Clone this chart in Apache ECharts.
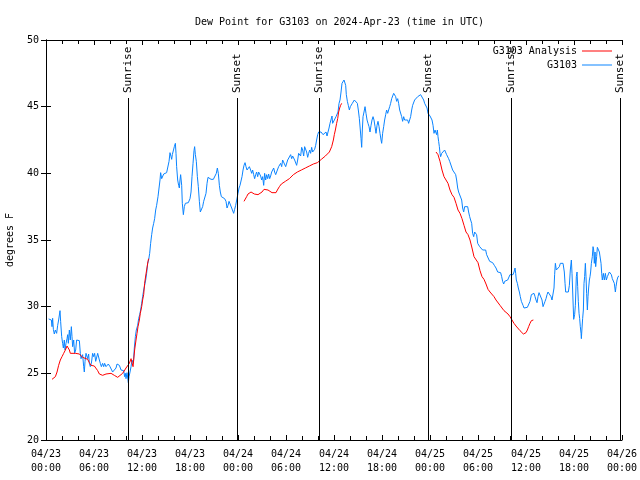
<!DOCTYPE html>
<html><head><meta charset="utf-8">
<script src="https://cdn.jsdelivr.net/npm/echarts@6/dist/echarts.min.js"></script>
<style>html,body{margin:0;padding:0;background:#fff}#c{width:640px;height:480px}</style>
</head><body><div id="c"></div>
<script>
// hours since 2024-04-23 00:00 UTC
var obsT = [0.33,0.5,0.67,0.75,0.83,0.92,1.04,1.17,1.33,1.46,1.58,1.75,1.83,1.96,2.08,2.17,2.29,2.38,2.5,2.63,2.71,2.79,2.92,3.04,3.17,3.25,3.33,3.46,3.58,3.71,3.83,3.96,4.17,4.29,4.38,4.5,4.58,4.71,4.79,4.88,5.0,5.13,5.21,5.33,5.42,5.54,5.67,5.83,5.96,6.08,6.21,6.33,6.46,6.58,6.67,6.79,6.92,7.08,7.21,7.33,7.5,7.63,7.79,8.0,8.21,8.33,8.54,8.75,8.88,9.04,9.17,9.38,9.58,9.71,9.83,9.92,10.0,10.13,10.29,10.38,10.5,10.63,10.75,10.92,11.04,11.17,11.29,11.46,11.58,11.71,
11.83,11.96,12.08,12.21,12.33,12.46,12.58,12.71,12.83,12.96,13.08,13.21,13.33,13.46,13.58,13.71,13.83,14.0,14.13,14.25,14.33,14.46,14.58,14.71,14.88,15.08,15.25,15.38,15.5,15.63,15.71,15.79,15.92,16.04,16.17,16.25,16.33,16.46,16.58,16.67,16.75,16.83,16.96,17.04,17.17,17.29,17.42,17.58,17.79,18.0,18.13,18.25,18.38,18.5,18.58,18.67,18.79,18.92,19.04,19.17,19.29,19.46,19.58,19.71,19.88,20.0,20.13,20.25,20.42,20.63,20.92,21.17,21.29,21.42,21.54,21.67,21.79,21.92,22.04,22.17,22.33,22.5,22.63,22.75,22.88,23.08,23.21,23.33,23.46,23.58,23.71,
24.0,24.13,24.25,24.38,24.5,24.63,24.75,24.88,25.0,25.13,25.25,25.42,25.58,25.71,25.83,25.96,26.08,26.21,26.33,26.46,26.58,26.71,26.83,26.96,27.08,27.21,27.33,27.46,27.58,27.71,27.83,27.96,28.08,28.21,28.33,28.46,28.58,28.71,28.83,28.96,29.08,29.21,29.33,29.46,29.58,29.71,29.83,29.96,30.08,30.21,30.33,30.46,30.58,30.71,30.83,30.96,31.08,31.21,31.33,31.46,31.58,31.71,31.83,31.96,32.08,32.21,32.33,32.46,32.58,32.71,32.83,32.96,33.08,33.21,33.33,33.46,33.58,33.71,33.83,33.96,34.08,34.25,34.38,34.5,34.63,34.75,34.88,35.0,35.13,35.25,35.38,35.5,35.63,35.75,35.83,35.96,36.08,
36.25,36.33,36.5,36.63,36.75,36.88,37.0,37.13,37.25,37.38,37.46,37.54,37.67,37.79,37.92,38.04,38.17,38.29,38.42,38.54,38.67,38.79,38.92,39.04,39.17,39.29,39.38,39.46,39.54,39.63,39.75,39.88,40.0,40.13,40.25,40.38,40.5,40.63,40.75,40.88,41.0,41.13,41.25,41.38,41.5,41.63,41.75,41.88,41.96,42.08,42.21,42.33,42.46,42.58,42.71,42.83,42.96,43.08,43.21,43.33,43.46,43.58,43.71,43.83,43.96,44.08,44.21,44.33,44.46,44.58,44.71,44.83,44.96,45.08,45.21,45.33,45.46,45.58,45.71,45.83,45.96,46.08,46.21,46.33,46.46,46.58,46.71,46.83,46.96,47.08,47.21,47.33,47.46,
47.63,47.75,47.88,48.0,48.13,48.25,48.38,48.5,48.63,48.75,48.83,48.92,49.0,49.08,49.17,49.25,49.33,49.46,49.58,49.71,49.83,49.96,50.08,50.21,50.33,50.46,50.58,50.71,50.83,50.96,51.08,51.21,51.33,51.46,51.58,51.71,51.83,51.96,52.08,52.21,52.33,52.46,52.58,52.71,52.83,52.96,53.08,53.21,53.33,53.46,53.58,53.71,53.83,53.96,54.08,54.21,54.33,54.46,54.58,54.71,54.83,54.96,55.08,55.21,55.33,55.46,55.63,55.83,56.04,56.25,56.46,56.67,56.83,56.96,57.08,57.21,57.33,57.5,57.71,57.88,58.0,58.13,58.25,58.38,58.5,58.63,58.71,58.79,58.92,59.04,59.17,59.29,59.42,
59.63,59.75,59.88,60.0,60.17,60.33,60.5,60.67,60.83,61.0,61.13,61.25,61.38,61.5,61.63,61.75,61.88,62.0,62.13,62.25,62.38,62.5,62.63,62.75,62.88,63.0,63.13,63.25,63.38,63.5,63.58,63.67,63.79,63.92,64.04,64.17,64.29,64.42,64.54,64.63,64.79,64.88,64.96,65.13,65.29,65.42,65.54,65.67,65.75,65.83,65.96,66.08,66.17,66.29,66.38,66.46,66.54,66.63,66.71,66.79,66.88,66.92,67.0,67.08,67.17,67.25,67.33,67.42,67.5,67.58,67.67,67.75,67.83,67.92,68.0,68.08,68.17,68.29,68.38,68.46,68.54,68.63,68.71,68.83,68.92,69.04,69.17,69.29,69.38,69.46,69.54,69.67,69.79,69.92,70.04,70.17,70.29,70.42,70.54,70.67,70.79,70.92,71.04,71.17,71.25,71.38,71.5,71.63];
var obsV = [29.08,29.13,29.0,28.5,29.13,28.3,27.95,28.25,28.0,28.6,29.0,29.7,28.9,27.75,27.25,26.9,27.5,26.75,27.25,27.6,27.9,27.25,28.25,27.5,28.5,27.75,27.0,27.5,26.5,26.75,27.5,27.55,27.45,26.5,26.1,26.0,26.4,25.5,25.1,25.9,26.5,26.4,26.1,26.45,25.75,25.5,25.75,26.5,26.25,26.5,25.9,26.0,26.5,26.5,26.0,25.75,25.5,25.75,25.5,25.75,25.5,25.4,25.7,25.5,25.4,25.1,25.1,25.4,25.7,25.75,25.6,25.25,25.1,25.2,24.75,25.0,24.6,25.05,24.3,24.75,25.1,25.5,26.0,25.75,26.9,27.75,28.25,28.6,29.1,29.4,
29.75,30.25,30.75,31.25,31.6,32.0,32.5,33.25,33.5,34.0,34.75,35.4,35.9,36.25,36.6,37.25,37.6,38.25,38.9,39.5,40.05,39.6,39.75,39.95,40.05,40.05,40.1,40.9,41.55,41.25,41.05,41.4,41.5,42.0,42.25,41.5,40.5,39.5,39.1,38.9,39.5,39.9,39.1,37.75,36.9,37.5,37.75,37.75,37.8,38.1,38.6,39.75,40.75,41.7,42.0,41.4,40.9,39.75,39.0,37.9,37.1,37.1,37.5,37.9,37.9,38.5,39.25,39.7,39.6,39.55,39.55,39.55,40.0,40.4,40.0,39.1,38.6,38.25,38.4,38.25,38.1,37.9,37.4,37.6,37.9,37.9,37.4,37.5,37.0,37.3,37.6,
38.5,38.9,39.1,39.0,39.75,40.25,40.6,40.8,40.5,40.25,40.4,40.5,40.25,40.0,40.25,39.9,39.6,39.9,40.1,39.75,40.1,40.25,39.8,39.5,39.75,39.1,40.0,39.5,39.9,39.6,39.95,39.6,39.8,40.1,40.25,40.4,40.1,39.9,40.1,40.25,40.5,40.4,40.75,40.5,41.0,41.1,40.9,40.5,40.6,41.0,40.9,41.0,41.4,41.1,41.3,41.2,41.0,40.9,40.6,41.0,41.5,41.6,41.3,41.95,41.75,41.3,42.0,42.05,41.6,41.2,41.5,41.75,41.5,41.95,41.6,41.75,41.8,42.1,42.5,42.9,43.1,43.2,43.1,43.0,42.9,43.0,42.8,43.1,42.8,43.1,43.4,43.75,43.6,44.3,43.75,43.9,43.75,
44.25,44.1,44.6,45.25,45.5,46.1,46.75,46.9,47.0,47.05,46.6,45.9,45.4,45.1,44.75,45.0,45.1,45.25,45.3,45.5,45.55,45.4,45.25,44.75,44.1,43.25,42.6,41.95,43.25,44.25,44.6,45.0,44.5,44.0,43.75,43.5,43.1,43.6,44.0,44.25,44.0,43.5,43.0,43.6,43.9,43.5,43.0,42.5,42.25,43.0,43.5,44.0,44.4,44.75,44.5,44.75,45.0,45.25,45.6,45.75,46.0,46.05,45.75,45.4,45.6,45.25,44.75,44.6,44.25,43.9,44.25,44.0,44.1,43.9,44.0,43.75,43.9,44.25,44.75,45.1,45.25,45.5,45.4,45.6,45.75,45.9,45.75,45.9,46.05,45.75,45.5,45.25,45.1,
44.9,44.5,44.4,44.3,44.25,44.0,43.6,43.0,43.25,43.1,42.9,43.25,42.75,42.4,42.0,41.5,41.25,41.5,41.6,41.4,41.75,41.6,41.4,41.4,41.1,40.9,40.75,40.9,40.25,40.1,40.2,39.9,39.5,38.9,38.6,38.5,38.6,38.0,37.4,37.1,37.5,37.6,37.6,37.5,37.1,36.75,36.5,36.25,35.5,35.25,35.6,35.6,35.4,34.75,34.6,34.5,34.55,34.4,34.25,34.1,34.4,34.25,33.9,34.0,33.75,33.4,33.4,33.3,33.1,32.9,32.6,32.45,32.55,32.25,31.9,31.7,31.9,32.0,32.0,32.1,32.4,32.5,32.25,32.4,32.6,32.9,32.5,32.0,31.75,31.4,31.1,30.75,30.4,
30.1,29.9,29.8,29.95,29.95,30.05,30.4,30.9,31.05,31.0,30.75,30.5,30.3,30.75,31.05,31.2,30.9,30.5,30.0,30.1,30.4,30.6,30.9,31.1,31.25,31.0,30.75,30.5,30.6,31.4,32.4,33.25,32.75,32.6,32.9,33.0,33.25,33.3,33.2,33.25,32.6,31.75,31.1,31.1,31.1,31.6,32.75,33.5,32.5,31.25,29.05,29.4,30.1,32.25,32.6,31.5,30.4,29.5,29.1,28.5,28.0,27.6,28.4,29.1,29.75,31.75,32.25,33.25,32.25,31.0,29.75,30.75,31.4,32.0,32.25,32.6,33.25,33.75,34.5,34.25,33.25,34.1,33.0,33.75,34.45,34.4,34.1,34.0,33.25,32.5,32.0,32.5,32.0,32.5,32.0,32.25,32.4,32.6,32.5,32.4,32.1,32.25,31.75,31.1,31.5,32.0,32.25,32.3];

// analysis (null = gap)
var anaT = [0.75,0.96,1.17,1.38,1.58,1.79,2.0,2.21,2.42,2.63,2.79,2.92,3.04,3.67,4.17,4.38,4.58,4.79,5.21,5.42,5.63,6.04,6.25,6.46,6.67,7.08,7.5,8.13,8.54,8.96,9.17,9.58,10.0,10.42,10.63,10.75,10.88,10.96,11.08,11.25,11.38,11.5,11.67,11.79,11.96,12.08,12.21,12.33,12.46,12.58,12.75,12.83,
18,
24.75,24.92,25.08,25.25,25.42,25.63,25.83,26.04,26.25,26.5,26.75,27.0,27.25,27.5,27.75,28.0,28.25,28.5,28.75,28.92,29.17,29.42,29.67,29.92,30.17,30.42,30.67,30.92,31.17,31.42,31.67,31.92,32.17,32.42,32.67,32.92,33.17,33.42,33.67,33.92,34.17,34.42,34.67,34.92,35.17,35.42,35.71,35.92,36.04,36.17,36.33,36.46,36.58,36.71,36.83,36.96,
42,
48.75,49.0,49.25,49.5,49.75,50.0,50.25,50.5,50.75,51.0,51.25,51.5,51.75,52.0,52.25,52.5,52.75,53.0,53.25,53.5,53.75,54.0,54.25,54.5,54.75,55.0,55.25,55.5,55.75,56.0,56.25,56.5,56.75,57.0,57.25,57.5,57.75,58.0,58.25,58.5,58.75,59.0,59.25,59.5,59.67,59.83,60.0,60.17,60.33,60.5,60.67,60.92];
var anaV = [24.55,24.5,24.75,25.1,25.6,26.0,26.25,26.5,26.75,27.05,27.1,26.75,26.5,26.5,26.45,26.3,26.2,26.1,26.05,25.8,25.6,25.55,25.45,25.2,24.95,24.85,24.95,25.0,24.85,24.7,24.75,25.0,25.4,25.75,26.1,25.8,25.5,26.0,26.75,27.5,28.0,28.5,29.0,29.5,30.0,30.5,30.9,31.75,32.3,32.75,33.4,33.6,
null,
37.9,38.0,38.25,38.45,38.6,38.6,38.55,38.45,38.4,38.4,38.5,38.6,38.8,38.85,38.75,38.6,38.55,38.5,38.55,38.75,39.0,39.2,39.3,39.4,39.5,39.6,39.75,39.9,40.0,40.1,40.2,40.25,40.35,40.4,40.5,40.55,40.6,40.7,40.75,40.8,40.9,41.05,41.2,41.3,41.45,41.6,42.0,42.5,42.9,43.25,43.75,44.1,44.6,44.9,45.1,45.25,
null,
41.6,41.4,40.9,40.25,39.75,39.5,39.25,38.75,38.4,38.2,37.75,37.25,37.0,36.6,36.1,35.6,35.4,35.0,34.4,33.75,33.6,33.3,32.7,32.25,32.05,31.7,31.3,31.1,31.0,30.75,30.5,30.4,30.1,29.9,29.7,29.55,29.45,29.25,29.1,28.75,28.55,28.4,28.2,28.1,27.95,27.95,28.05,28.25,28.5,28.75,28.95,29.0];

var sunT = [10.25, 23.875, 34.125, 47.75, 58.125, 71.75];
var sunName = ['Sunrise','Sunset','Sunrise','Sunset','Sunrise','Sunset'];

var xTickLabels = ['04/23\n00:00','04/23\n06:00','04/23\n12:00','04/23\n18:00','04/24\n00:00','04/24\n06:00','04/24\n12:00','04/24\n18:00','04/25\n00:00','04/25\n06:00','04/25\n12:00','04/25\n18:00','04/26\n00:00'];

var FONT = 'DejaVu Sans Mono';
function pairs(t, v){ return t.map(function(x,i){ return [x, v[i]]; }); }

var chart = echarts.init(document.getElementById('c'), null, {renderer:'canvas'});
var axisCommon = {
  axisLine:{show:true, lineStyle:{color:'#000', width:1}},
  splitLine:{show:false}
};
chart.setOption({
  animation:false,
  backgroundColor:'#fff',
  textStyle:{fontFamily:FONT},
  title:{text:'Dew Point for G3103 on 2024-Apr-23 (time in UTC)', left:190, top:12,
    textStyle:{fontFamily:FONT, fontSize:10, fontWeight:'normal', color:'#000'}},
  legend:[
    {data:['G3103 Analysis'], right:23, top:41, orient:'vertical', align:'right', icon:'rect', itemWidth:30, itemHeight:1,
     textStyle:{fontFamily:FONT, fontSize:10, color:'#000'}},
    {data:['G3103'], right:23, top:55, orient:'vertical', align:'right', icon:'rect', itemWidth:30, itemHeight:1,
     textStyle:{fontFamily:FONT, fontSize:10, color:'#000'}}
  ],
  grid:{left:46, right:18, top:40, bottom:40, containLabel:false, outerBoundsMode:'none'},
  xAxis:[
    Object.assign({type:'value', min:0, max:72, interval:6, position:'bottom',
      axisTick:{show:true, inside:true, length:5, lineStyle:{color:'#000'}},
      minorTick:{show:true, splitNumber:3, length:4, lineStyle:{color:'#000'}},
      axisLabel:{show:true, color:'#000', fontFamily:FONT, fontSize:10, lineHeight:14, margin:7,
        formatter:function(v){ return xTickLabels[Math.round(v/6)]; }}}, axisCommon),
    Object.assign({type:'value', min:0, max:72, interval:6, position:'top',
      axisTick:{show:true, inside:true, length:5, lineStyle:{color:'#000'}},
      minorTick:{show:true, splitNumber:3, length:4, lineStyle:{color:'#000'}},
      axisLabel:{show:false}}, axisCommon)
  ],
  yAxis:[
    Object.assign({type:'value', min:20, max:50, interval:5, position:'left',
      name:'degrees F', nameLocation:'middle', nameGap:31, nameRotate:90,
      nameTextStyle:{fontFamily:FONT, fontSize:10, color:'#000'},
      axisTick:{show:true, inside:true, length:5, lineStyle:{color:'#000'}},
      axisLabel:{color:'#000', fontFamily:FONT, fontSize:10, margin:7}}, axisCommon),
    Object.assign({type:'value', min:20, max:50, interval:5, position:'right',
      axisTick:{show:true, inside:true, length:5, lineStyle:{color:'#000'}},
      axisLabel:{show:false}}, axisCommon)
  ],
  series:[
    {name:'G3103 Analysis', type:'line', data:pairs(anaT, anaV), showSymbol:false, symbol:'none',
     connectNulls:false, lineStyle:{color:'#ff0000', width:1}, itemStyle:{color:'#ff0000'}, z:3},
    {name:'G3103', type:'line', data:pairs(obsT, obsV), showSymbol:false, symbol:'none',
     lineStyle:{color:'#0a84ff', width:1}, itemStyle:{color:'#0a84ff'}, z:2},
    {name:'sun', type:'custom', clip:false, z:4,
     data:sunT.map(function(t,i){ return [t, i]; }),
     renderItem:function(params, api){
       var t = api.value(0);
       var p0 = api.coord([t, 20]);
       var p1 = api.coord([t, 45.65]);
       var x = Math.round(p0[0]) + 0.5;
       return {type:'group', children:[
         {type:'line', shape:{x1:x, y1:p0[1], x2:x, y2:p1[1]}, style:{stroke:'#000', lineWidth:1}},
         {type:'text', x:x, y:p1[1]-5, rotation:Math.PI/2,
          style:{text:sunName[api.value(1)], font:'11px "DejaVu Sans Mono"', fill:'#000', align:'left', verticalAlign:'middle'}}
       ]};
     }}
  ]
});
</script>
</body></html>
